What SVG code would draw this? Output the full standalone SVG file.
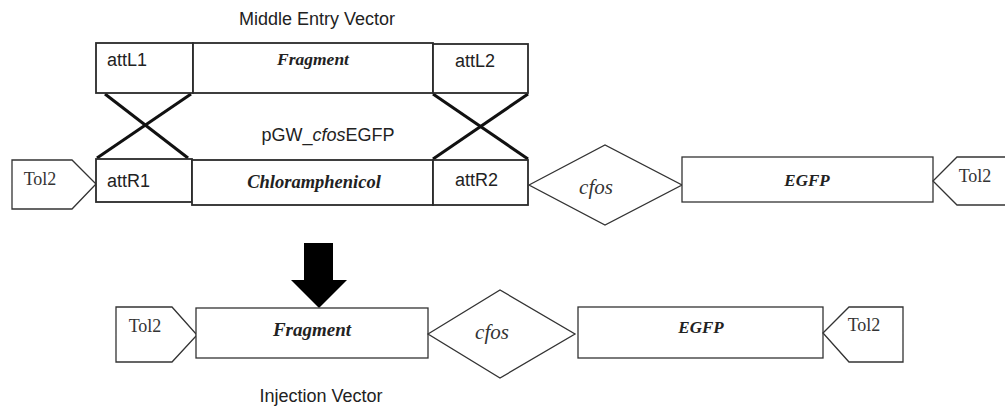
<svg xmlns="http://www.w3.org/2000/svg" width="1005" height="409" viewBox="0 0 1005 409">
<style>
.box{fill:#fff;stroke:#2a2a2a;stroke-width:1.8}
.thin{fill:#fff;stroke:#333;stroke-width:1.3}
.sans{font-family:"Liberation Sans",Arial,sans-serif;font-size:18px;fill:#222}
.bi{font-family:"Liberation Serif","Times New Roman",serif;font-weight:bold;font-style:italic;fill:#222}
.it{font-family:"Liberation Serif","Times New Roman",serif;font-style:italic;font-size:21px;fill:#333}
.ser{font-family:"Liberation Serif","Times New Roman",serif;font-size:18px;fill:#333}
.cross{stroke:#111;stroke-width:3;fill:none}
</style>
<rect width="1005" height="409" fill="#fff"/>
<text class="sans" x="317" y="25" text-anchor="middle">Middle Entry Vector</text>
<text class="sans" x="328" y="141" text-anchor="middle">pGW_<tspan font-style="italic">cfos</tspan>EGFP</text>
<text class="sans" x="321" y="402" text-anchor="middle">Injection Vector</text>

<g id="connectors">
<line class="cross" x1="105" y1="94" x2="188" y2="158"/>
<line class="cross" x1="191" y1="94" x2="97" y2="158"/>
<line class="cross" x1="433" y1="94" x2="528" y2="159"/>
<line class="cross" x1="528" y1="94" x2="433" y2="159"/>
<polygon points="304,243 333,243 333,280 347,280 319,308 291,280 304,280" fill="#000"/>
</g>

<g id="attL1"><rect class="box" x="96" y="43" width="97" height="50"/><text class="sans" x="107" y="66">attL1</text></g>
<g id="fragmentTop"><rect class="box" x="193" y="43" width="240" height="50"/><text class="bi" x="313" y="65" font-size="17.5" text-anchor="middle">Fragment</text></g>
<g id="attL2"><rect class="box" x="433" y="44" width="95" height="49"/><text class="sans" x="455" y="67">attL2</text></g>

<g id="tol2TopLeft"><polygon class="thin" points="12,160 72,160 96,184 72,209 12,209"/><text class="ser" x="40" y="185" text-anchor="middle">Tol2</text></g>
<g id="attR1"><rect class="box" x="96" y="159" width="96" height="43"/><text class="sans" x="107" y="187">attR1</text></g>
<g id="chloramphenicol"><rect class="box" x="192" y="160" width="241" height="45"/><text class="bi" x="314" y="188" font-size="18.5" text-anchor="middle">Chloramphenicol</text></g>
<g id="attR2"><rect class="box" x="433" y="160" width="95" height="45"/><text class="sans" x="455" y="186">attR2</text></g>
<g id="cfosTop"><polygon class="thin" points="529,185 605,145 682,185 605,225"/><text class="it" x="596" y="194" text-anchor="middle">cfos</text></g>
<g id="egfpTop"><rect class="thin" x="682" y="157" width="251" height="45"/><text class="bi" x="807" y="186" font-size="17" text-anchor="middle">EGFP</text></g>
<g id="tol2TopRight"><polyline class="thin" points="1007,157 957,157 933,181 957,205 1007,205"/><text class="ser" x="975" y="182" text-anchor="middle">Tol2</text></g>

<g id="tol2BottomLeft"><polygon class="thin" points="116,307 172,307 197,335 172,362 116,362"/><text class="ser" x="145" y="332" text-anchor="middle">Tol2</text></g>
<g id="fragmentBottom"><rect class="thin" x="196" y="308" width="232" height="50"/><text class="bi" x="312" y="336" font-size="19" text-anchor="middle">Fragment</text></g>
<g id="cfosBottom"><polygon class="thin" points="428,334 500,290 575,334 500,378"/><text class="it" x="492" y="339" font-size="20" text-anchor="middle">cfos</text></g>
<g id="egfpBottom"><rect class="thin" x="578" y="307" width="245" height="51"/><text class="bi" x="701" y="333" font-size="17" text-anchor="middle">EGFP</text></g>
<g id="tol2BottomRight"><polygon class="thin" points="823,333 849,307 903,307 903,362 849,362"/><text class="ser" x="864" y="331" text-anchor="middle">Tol2</text></g>
</svg>
